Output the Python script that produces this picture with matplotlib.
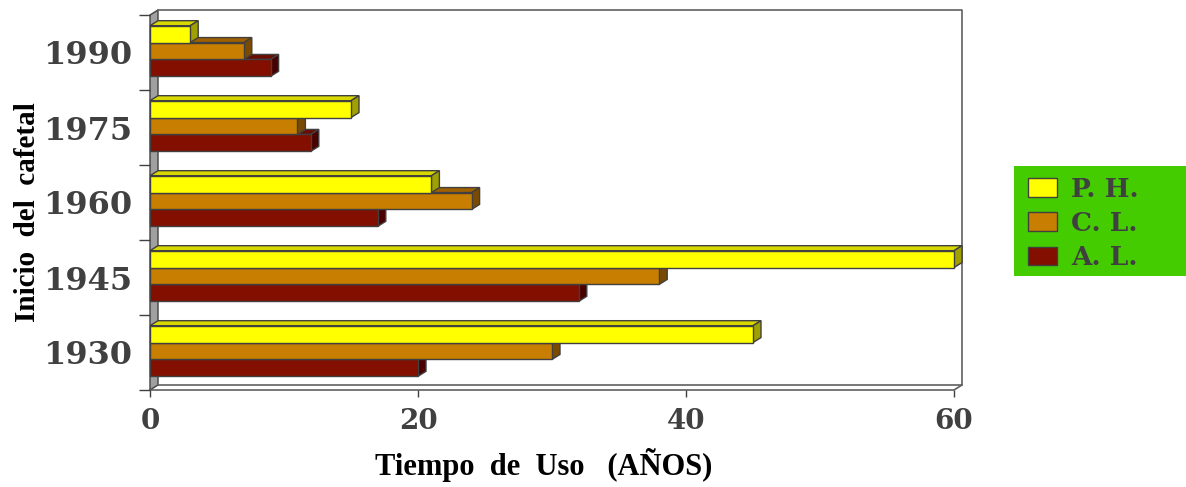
import matplotlib
matplotlib.use("Agg")
import matplotlib.pyplot as plt
from matplotlib.patches import Polygon, Rectangle, Patch
import numpy as np

categories = ["1930", "1945", "1960", "1975", "1990"]
series_names = ["P. H.", "C. L.", "A. L."]
ph = [45, 60, 21, 15, 3]
cl = [30, 38, 24, 11, 7]
al = [20, 32, 17, 12, 9]
xticks = [0, 20, 40, 60]

front_colors = ["#FFFF00", "#C87E00", "#820F00"]
top_colors = ["#D8D800", "#A06000", "#6A0C00"]
side_colors = ["#A0A000", "#7A4A00", "#4A0000"]
edge = "#404040"

fig = plt.figure(figsize=(11.86, 4.87), dpi=100)
ax = fig.add_axes([150/1186, (487-390)/487, 804/1186, 375/487])
ax.set_xlim(0, 60)
ax.set_ylim(-0.5, 4.5)
for s in ax.spines.values():
    s.set_visible(False)

dx = 8 / 13.4
dy = 5 / 75.0
xmax = 60
y0, y1 = -0.5, 4.5

# left wall
ax.add_patch(Polygon([(0, y0), (0, y1), (dx, y1 + dy), (dx, y0 + dy)],
                     closed=True, facecolor="#A0A0A0", edgecolor=edge, lw=1, clip_on=False, zorder=1))
# back wall / floor lines
ax.plot([dx, xmax + dx, xmax + dx, dx], [y0 + dy, y0 + dy, y1 + dy, y1 + dy],
        color="#606060", lw=1.2, clip_on=False, zorder=1)
ax.plot([0, xmax, xmax + dx], [y0, y0, y0 + dy], color="#606060", lw=1.2, clip_on=False, zorder=1)

h = 0.225
offsets = [0.245, 0.02, -0.205]
values = [ph, cl, al]
ypos = np.arange(len(categories))

# draw bottom series first
for si in [2, 1, 0]:
    vals = values[si]
    ys = ypos + offsets[si]
    for y, v in zip(ys, vals):
        b, t = y - h / 2, y + h / 2
        ax.add_patch(Polygon([(0, t), (v, t), (v + dx, t + dy), (dx, t + dy)], closed=True,
                             facecolor=top_colors[si], edgecolor=edge, lw=1, clip_on=False, zorder=2))
        ax.add_patch(Polygon([(v, b), (v + dx, b + dy), (v + dx, t + dy), (v, t)], closed=True,
                             facecolor=side_colors[si], edgecolor=edge, lw=1, clip_on=False, zorder=2))
    ax.barh(ys, vals, height=h, color=front_colors[si], edgecolor=edge, lw=1, zorder=2, clip_on=False)

ax.set_xticks(xticks)
ax.set_xticklabels([str(x) for x in xticks], fontfamily="DejaVu Serif", fontweight="bold",
                   fontsize=20, color="#404040")
ax.tick_params(axis="x", direction="out", length=5, width=1, color="#404040", pad=8)

ax.set_yticks(ypos)
ax.set_yticklabels(categories, fontfamily="DejaVu Serif", fontweight="bold", fontsize=23, color="#404040")
ax.tick_params(axis="y", which="major", length=0, pad=13)
ax.set_yticks(np.arange(-0.5, 5.0, 1.0), minor=True)
ax.tick_params(axis="y", which="minor", direction="out", length=8, width=1, color="#404040")

ax.set_xlabel("Tiempo  de  Uso   (AÑOS)", fontfamily="Liberation Serif", fontweight="bold",
              fontsize=22, color="black")
ax.xaxis.set_label_coords(0.49, -0.155)
ax.set_ylabel("Inicio  del  cafetal", fontfamily="Liberation Serif", fontweight="bold",
              fontsize=21, color="black")
ax.yaxis.set_label_coords(-0.135, 0.475)

# legend
fig.patches.append(Rectangle((1014/1186, 1 - 276/487), 172/1186, 110/487, transform=fig.transFigure,
                             facecolor="#44CC00", edgecolor="none", zorder=0))
handles = [Patch(facecolor=front_colors[i], edgecolor=edge, lw=1) for i in range(3)]
leg = fig.legend(handles, series_names, loc="upper left", bbox_to_anchor=(1017/1186, 1 - 166/487),
                 frameon=False, prop={"family": "DejaVu Serif", "weight": "bold", "size": 19},
                 handlelength=1.1, handleheight=0.7, labelspacing=0.35, handletextpad=0.55,
                 borderaxespad=0)
for t in leg.get_texts():
    t.set_color("#404040")

fig.savefig("out.png", dpi=100)
